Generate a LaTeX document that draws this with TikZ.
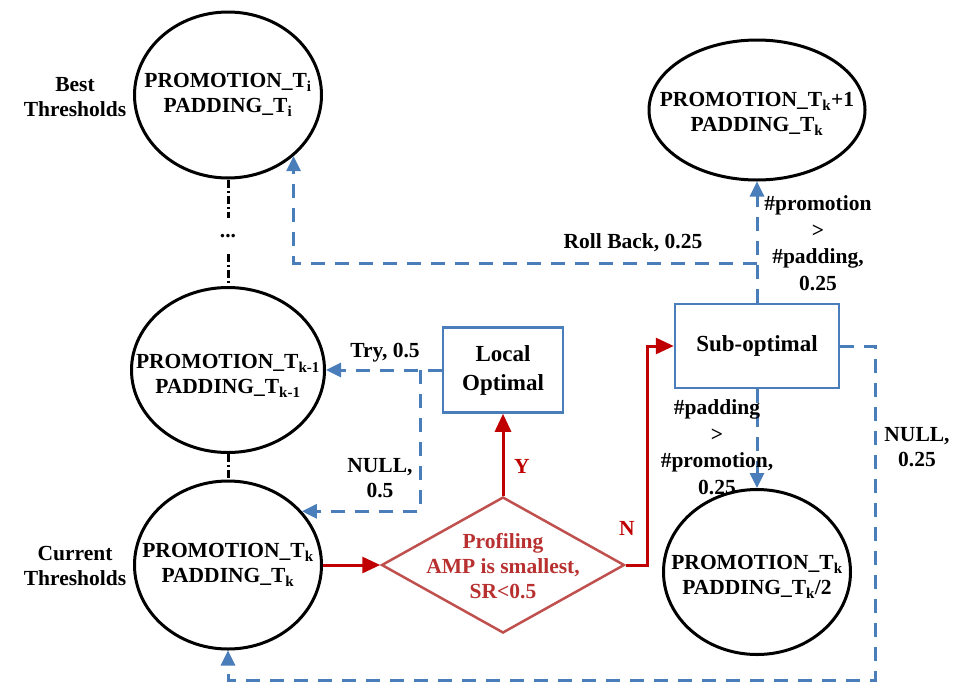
\documentclass[tikz,border=0pt]{standalone}
\usepackage{fontspec}
\setmainfont{Liberation Serif}
\usetikzlibrary{shapes.geometric,arrows.meta}
\definecolor{lblue}{HTML}{4A7EBB}
\definecolor{arred}{HTML}{C00000}
\definecolor{dred}{HTML}{C0504D}
\definecolor{dtext}{HTML}{B83030}
\begin{document}
\begin{tikzpicture}[x=1pt,y=-1pt,
  font=\bfseries\fontsize{21.5}{25}\selectfont,
  ell/.style={ellipse, draw=black, line width=3pt, inner sep=0pt},
  box/.style={rectangle, draw=lblue, line width=2.5pt, align=center, inner sep=0pt,
              font=\bfseries\fontsize{23}{29}\selectfont},
  lab/.style={align=center},
  lab4/.style={align=center, font=\bfseries\fontsize{21.5}{26.5}\selectfont},
  blueflow/.style={draw=lblue, line width=3pt, dash pattern=on 14pt off 10pt,
                   -{Triangle[length=15pt,width=14pt]}},
  redflow/.style={draw=arred, line width=3pt, -{Triangle[length=18pt,width=16pt]}},
  blackdash/.style={draw=black, line width=3pt, dash pattern=on 8pt off 3pt on 2pt off 3pt}]
\useasboundingbox (0,0) rectangle (953,686);

% ellipses
\node[ell, minimum width=187pt, minimum height=166pt,
  label={[lab]center:{PROMOTION\_T\textsubscript{i}\\PADDING\_T\textsubscript{i}}}] (Ti) at (228,95) {};
\node[ell, minimum width=216pt, minimum height=140pt,
  label={[lab, yshift=-4pt]center:{PROMOTION\_T\textsubscript{k}+1\\PADDING\_T\textsubscript{k}}}] (Tk1) at (757,110) {};
\node[ell, minimum width=193pt, minimum height=165pt,
  label={[lab, yshift=-6pt]center:{PROMOTION\_T\textsubscript{k-1}\\PADDING\_T\textsubscript{k-1}}}] (Tkm1) at (228,370) {};
\node[ell, minimum width=187pt, minimum height=168pt,
  label={[lab]center:{PROMOTION\_T\textsubscript{k}\\PADDING\_T\textsubscript{k}}}] (Tk) at (228,565) {};
\node[ell, minimum width=187pt, minimum height=165pt,
  label={[lab, yshift=-5pt]center:{PROMOTION\_T\textsubscript{k}\\PADDING\_T\textsubscript{k}/2}}] (Tk2) at (757,572) {};

% boxes
\node[box, minimum width=120pt, minimum height=85pt] (local) at (503,370) {Local\\Optimal};
\node[box, minimum width=164pt, minimum height=84pt] (sub) at (757,346) {Sub-optimal};

% decision
\node[diamond, draw=dred, line width=2.5pt, minimum width=243pt, minimum height=136pt, inner sep=0pt] (dec) at (503,565) {};
\node[lab, text=dtext] (dectext) at (503,566) {Profiling\\AMP is smallest,\\SR<0.5};

% side labels
\node[lab] (best) at (75,97) {Best\\Thresholds};
\node[lab] (cur) at (75,566) {Current\\Thresholds};

% black dotted chain
\node[inner sep=0pt, minimum height=36pt] (dots) at (228,236) {...};
\draw[blackdash] (Ti.south) -- (dots.north);
\draw[blackdash] (dots.south) -- (Tkm1.north);
\draw[blackdash] (Tkm1.south) -- (Tk.north);

% red flow
\draw[redflow] (Tk.east) -- (dec.west);
\draw[redflow] (dec.north) -- (local.south);
\draw[redflow] (dec.east) -- ++(22,0) |- (sub.west);
\node[text=arred] (ylab) at (522,466) {Y};
\node[text=arred] (nlab) at (627,528) {N};

% blue flows
\coordinate (tj) at (420,370);
\draw[blueflow] (local.west) -- (Tkm1.east);
\draw[blueflow] (tj) |- (Tk.36);
\node[lab] (trylab) at (385,353) {Try, 0.5};
\node[lab] (null5) at (380,478) {NULL,\\0.5};

\draw[blueflow] (sub.north) -- (Tk1.south);
\node[lab4] (promlab) at (818,243) {\#promotion\\>\\\#padding,\\0.25};

\coordinate (rb) at (757,263);
\draw[blueflow] (rb) -| (Ti.-43);
\node[lab] (rblab) at (633,243) {Roll Back, 0.25};

\draw[blueflow] (sub.south) -- (Tk2.north);
\node[lab4] (padlab) at (717,447) {\#padding\\>\\\#promotion,\\0.25};

\coordinate (nc) at (875,680);
\draw[blueflow] (sub.east) -| (nc) -| (Tk.south);
\node[lab] (null25) at (917,447) {NULL,\\0.25};
\end{tikzpicture}
\end{document}
